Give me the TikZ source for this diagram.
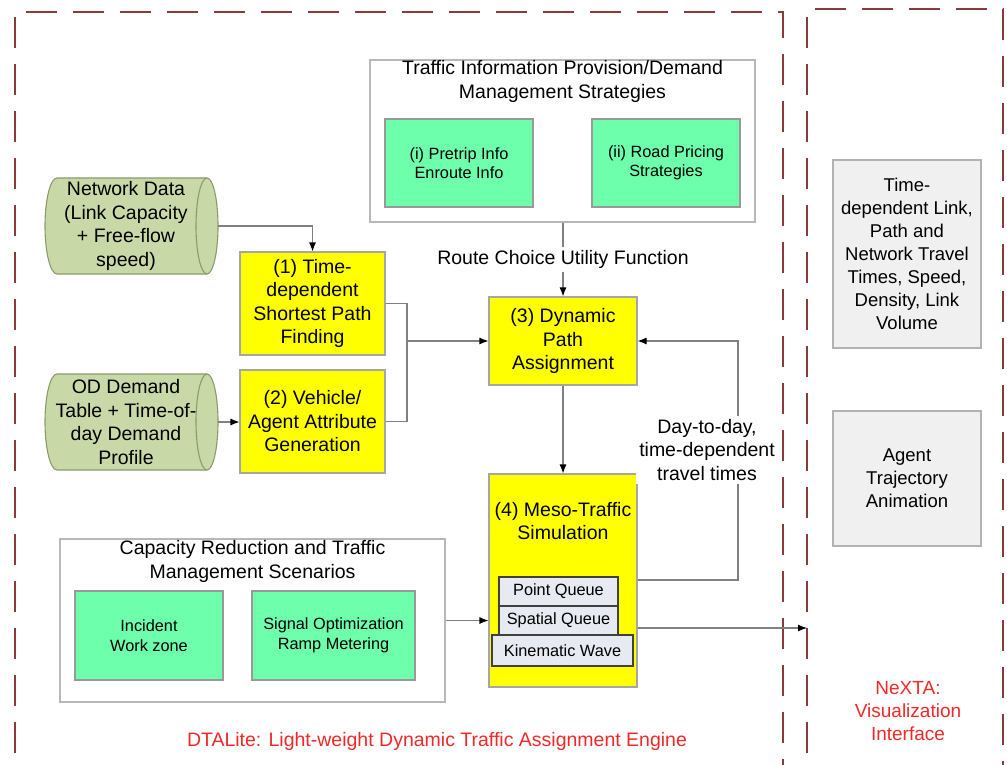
\documentclass[tikz,border=0pt]{standalone}
\usepackage{fontspec}
\setmainfont{Liberation Sans}
\usetikzlibrary{arrows.meta}
\definecolor{ybox}{RGB}{255,255,0}
\definecolor{gbox}{RGB}{110,255,172}
\definecolor{cylf}{RGB}{200,216,166}
\definecolor{cyld}{RGB}{140,155,110}
\definecolor{dashc}{RGB}{139,58,58}
\definecolor{redt}{RGB}{240,40,40}
\definecolor{qbox}{RGB}{232,234,242}
\begin{document}
\begin{tikzpicture}[x=1pt,y=-1pt,
  big/.style={font=\fontsize{19.5}{23.5}\selectfont},
  small/.style={font=\fontsize{16.3}{19.5}\selectfont},
  ybx/.style={draw=black!35,fill=ybox,line width=1.1pt,inner sep=0pt,align=center,big},
  gbx/.style={draw=black!40,fill=gbox,line width=1.1pt,inner sep=0pt,align=center,small},
  cont/.style={draw=black!28,fill=white,line width=1.1pt,inner sep=0pt},
  rbx/.style={draw=black!30,fill=black!6,line width=1.1pt,inner sep=0pt,align=center,font=\fontsize{18.5}{23}\selectfont},
  qbx/.style={draw=black!75,fill=qbox,line width=1.4pt,inner sep=0pt,align=center,small},
  txt/.style={inner sep=0pt,align=center,big},
  conn/.style={draw=black!50,line width=1.1pt},
  arr/.style={conn,-{Latex[length=9pt,width=7pt,color=black]}},
  dbox/.style={draw=dashc,line width=2.4pt,dash pattern=on 31pt off 16pt},
  cyl/.style={fill=cylf,draw=cyld,line width=1.1pt}
]
\useasboundingbox (0,0) rectangle (1007,765);
\begin{scope}
\clip (0,0) rectangle (1007,765);
\draw[dbox] (15,800) -- (15,12) -- (783,12) -- (783,800);
\draw[dbox] (807,800) -- (807,9) -- (1003,9) -- (1003,800);
\end{scope}

% cylinders
\draw[cyl] (57,178) -- (207,178) arc(-90:90:11 and 48) -- (57,274) arc(90:270:12 and 48) -- cycle;
\draw[cyld,line width=1.1pt] (207,178) arc(270:90:11 and 48);
\node[txt] (nd) at (126,226) {Network Data\\(Link Capacity\\+ Free-flow\\speed)};
\coordinate (ndR) at (218,226);

\draw[cyl] (57,374) -- (207,374) arc(-90:90:11 and 48) -- (57,470) arc(90:270:12 and 48) -- cycle;
\draw[cyld,line width=1.1pt] (207,374) arc(270:90:11 and 48);
\node[txt] (od) at (126,422) {OD Demand\\Table + Time-of-\\day Demand\\Profile};
\coordinate (odR) at (218,422);

% yellow boxes
\node[ybx,minimum width=145pt,minimum height=103pt] (b1) at (312.5,303.5) {(1) Time-\\dependent\\Shortest Path\\Finding};
\node[ybx,minimum width=145pt,minimum height=103pt] (b2) at (312.5,421.5) {(2) Vehicle/\\Agent Attribute\\Generation};
\node[ybx,minimum width=148pt,minimum height=88pt] (b3) at (563,341) {(3) Dynamic\\Path\\Assignment};
\node[ybx,minimum width=148pt,minimum height=213pt] (b4) at (563,580.5) {};
\node[txt] (b4t) at (563,521) {(4) Meso-Traffic\\Simulation};
\node[qbx,minimum width=119pt,minimum height=29pt] (pq) at (558.5,591.5) {Point Queue};
\node[qbx,minimum width=119pt,minimum height=29pt] (sq) at (558.5,620.5) {Spatial Queue};
\node[qbx,minimum width=141pt,minimum height=31pt] (kw) at (562.5,650.5) {Kinematic Wave};

% traffic info container
\node[cont,minimum width=385pt,minimum height=162pt] (ti) at (562.5,141) {};
\node[txt] (tit) at (562.5,81.5) {Traffic Information Provision/Demand\\Management Strategies};
\node[gbx,minimum width=148pt,minimum height=88pt] (gi) at (459,163) {(i) Pretrip Info\\Enroute Info};
\node[gbx,minimum width=148pt,minimum height=88pt] (gii) at (666,163) {(ii) Road Pricing\\Strategies};

% capacity container
\node[cont,minimum width=385pt,minimum height=163pt] (cap) at (252.5,620.5) {};
\node[txt] (capt) at (252.5,561.5) {Capacity Reduction and Traffic\\Management Scenarios};
\node[gbx,minimum width=148pt,minimum height=89pt] (inc) at (149,635.5) {Incident\\Work zone};
\node[gbx,minimum width=163pt,minimum height=89pt] (sig) at (333.5,635.5) {Signal Optimization\\Ramp Metering};

% right boxes
\node[rbx,minimum width=148pt,minimum height=188pt] (r1) at (907,254) {Time-\\dependent Link,\\Path and\\Network Travel\\Times, Speed,\\Density, Link\\Volume};
\node[rbx,minimum width=148pt,minimum height=135pt] (r2) at (907,478.5) {Agent\\Trajectory\\Animation};

% connectors
\draw[arr] (ndR) -| (b1.north);
\draw[arr] (odR) -- (odR -| b2.west);
\coordinate (m) at (407,341);
\draw[conn] (b1.east) -| (m) |- (b2.east);
\draw[arr] (m) -- (b3.west);
\draw[arr] (ti.south -| b3.north) -- node[txt,fill=white,inner sep=3pt] (rc) {Route Choice Utility Function} (b3.north);
\draw[arr] (b3.south) -- (b4.north);
\coordinate (fb) at (738,580);
\draw[arr] (fb -| b4.east) -- (fb) |- (b3.east);
\node[txt,fill=white,inner sep=3pt] (dd) at (707,450) {Day-to-day,\\time-dependent\\travel times};
\draw[arr] (cap.east) -- (cap.east -| b4.west);
\coordinate (out) at (807,628);
\draw[arr] (out -| b4.east) -- (out);

% labels
\node[txt,text=redt] (dta) at (437,741) {DTALite: Light-weight Dynamic Traffic Assignment Engine};
\node[txt,text=redt,font=\fontsize{19}{23}\selectfont] (nx) at (908,711) {NeXTA:\\Visualization\\Interface};
\end{tikzpicture}
\end{document}
